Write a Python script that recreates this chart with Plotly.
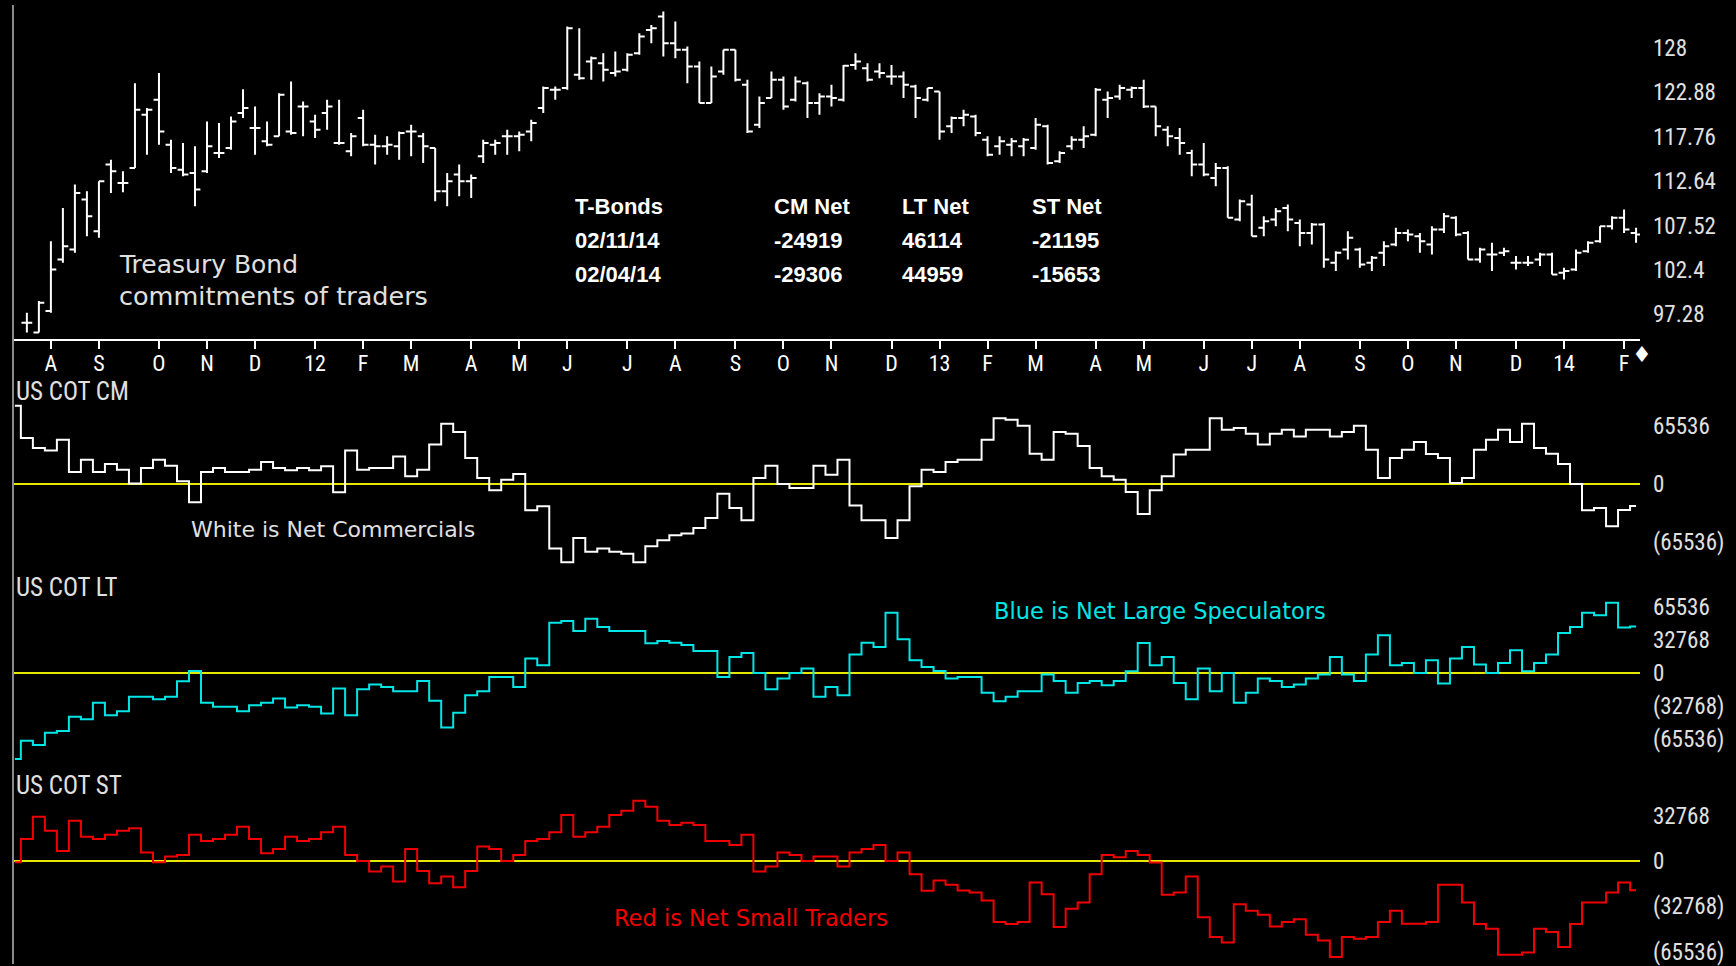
import plotly.graph_objects as go
import pandas as pd

# ---------------- data ----------------
bar_dates = pd.date_range("2011-07-22", periods=135, freq="W-FRI")
cot_dates = pd.date_range("2011-07-15", periods=136, freq="W-FRI")

open_ = [96.32, 95.17, 97.66, 103.60, 104.75, 110.51, 106.86, 114.54, 112.43, 114.15,
         120.29, 122.02, 116.84, 113.96, 113.58, 113.77, 115.88, 116.45, 120.48, 118.76,
         117.22, 117.80, 118.37, 121.25, 119.52, 120.48, 117.03, 116.07, 119.91, 116.84,
         116.65, 116.65, 118.37, 117.80, 116.45, 111.47, 113.39, 112.62, 115.50, 116.84,
         117.80, 117.80, 118.37, 121.06, 123.17, 123.36, 124.89, 126.43, 126.24, 125.09,
         125.47, 127.39, 130.07, 131.61, 128.54, 127.77, 125.85, 121.63, 125.28, 127.77,
         123.74, 119.14, 122.21, 124.32, 122.02, 123.93, 121.63, 122.40, 122.02, 126.04,
         125.66, 125.28, 124.70, 124.70, 123.55, 122.02, 122.97, 118.95, 119.91, 120.10,
         117.41, 116.65, 116.84, 116.65, 116.45, 118.95, 114.92, 116.65, 117.41, 117.99,
         122.02, 122.40, 123.17, 123.36, 121.25, 118.56, 117.61, 115.88, 114.54, 113.00,
         114.15, 108.21, 109.93, 107.25, 108.21, 109.55, 107.82, 106.67, 107.63, 103.22,
         104.75, 104.75, 103.22, 104.37, 105.33, 106.67, 106.29, 105.33, 107.06, 108.40,
         106.67, 103.60, 104.18, 104.37, 103.22, 103.22, 103.60, 104.18, 102.07, 102.45,
         104.56, 105.71, 107.44, 108.40, 106.67]
high = [97.47, 98.81, 105.71, 109.55, 112.24, 111.47, 112.62, 115.11, 113.77, 123.93,
        121.06, 125.09, 117.41, 117.03, 116.65, 119.52, 119.33, 120.10, 123.24, 121.25,
        119.52, 122.78, 124.13, 121.82, 120.29, 122.02, 122.02, 118.18, 120.87, 117.99,
        117.80, 118.37, 119.14, 118.18, 116.45, 113.58, 114.54, 113.39, 117.41, 117.41,
        118.56, 118.37, 119.71, 123.55, 123.55, 130.46, 130.26, 127.00, 127.39, 127.58,
        127.39, 129.69, 130.65, 132.18, 131.03, 128.15, 126.43, 125.85, 127.77, 127.77,
        124.32, 122.40, 125.28, 124.70, 124.70, 124.13, 122.78, 123.74, 126.04, 127.39,
        126.24, 126.24, 126.04, 125.28, 123.74, 123.36, 122.97, 120.10, 120.87, 120.29,
        117.80, 117.80, 117.61, 117.61, 119.91, 119.14, 116.07, 117.80, 118.95, 123.36,
        122.97, 123.74, 123.55, 124.32, 121.25, 118.95, 118.76, 116.26, 117.03, 114.73,
        114.34, 110.51, 111.08, 108.59, 109.55, 109.93, 108.21, 107.82, 107.82, 104.56,
        106.86, 104.95, 103.99, 105.71, 107.25, 107.06, 106.67, 107.44, 108.97, 108.59,
        106.86, 104.95, 105.52, 104.95, 103.99, 103.99, 104.37, 104.37, 102.65, 104.75,
        105.71, 107.44, 108.59, 109.36, 107.25]
low = [95.17, 95.17, 97.47, 103.22, 104.37, 106.29, 106.10, 111.28, 111.35, 114.15,
       115.69, 116.84, 113.58, 113.19, 109.74, 113.58, 115.30, 116.26, 119.91, 115.69,
       116.65, 117.80, 117.99, 117.80, 117.61, 118.56, 116.84, 115.50, 116.65, 114.54,
       115.69, 115.11, 115.50, 114.73, 110.32, 109.74, 110.89, 110.70, 114.73, 115.69,
       115.69, 116.07, 117.22, 120.48, 122.02, 123.17, 124.32, 124.32, 124.13, 124.70,
       125.28, 127.20, 128.54, 127.00, 126.81, 123.93, 121.63, 121.63, 124.89, 124.13,
       118.18, 118.76, 122.21, 120.87, 121.82, 119.91, 120.29, 121.25, 121.82, 125.47,
       124.13, 124.51, 123.74, 122.21, 119.91, 121.82, 117.41, 118.18, 118.95, 117.80,
       115.50, 115.69, 115.50, 115.50, 116.26, 114.54, 114.73, 116.26, 116.45, 117.80,
       119.91, 122.02, 122.21, 121.06, 117.80, 116.65, 115.69, 113.19, 113.19, 112.04,
       108.40, 108.01, 106.29, 106.29, 107.44, 106.86, 105.14, 105.33, 102.65, 102.26,
       103.60, 102.65, 102.26, 102.84, 105.14, 105.71, 104.37, 104.18, 106.67, 106.29,
       103.60, 103.22, 102.26, 103.99, 102.45, 102.84, 102.84, 101.88, 101.30, 102.26,
       104.37, 105.52, 107.06, 106.67, 105.52]
close = [96.32, 98.62, 102.45, 105.14, 111.28, 108.59, 112.62, 113.77, 112.43, 120.87,
         120.87, 118.37, 114.15, 113.39, 111.66, 116.65, 115.88, 119.52, 121.06, 118.76,
         116.84, 122.59, 118.18, 121.25, 118.56, 121.25, 117.03, 117.80, 116.84, 116.65,
         116.84, 118.18, 118.37, 116.65, 111.47, 112.62, 112.62, 113.00, 117.03, 117.03,
         117.80, 117.99, 119.33, 123.36, 123.17, 130.26, 124.51, 126.81, 125.47, 125.28,
         127.20, 129.30, 130.26, 128.54, 127.77, 125.85, 121.63, 124.70, 127.77, 124.32,
         118.37, 121.63, 124.32, 121.25, 124.13, 121.63, 122.40, 122.21, 125.93, 126.43,
         124.32, 125.09, 124.70, 123.74, 122.21, 123.36, 118.37, 119.91, 120.29, 118.18,
         115.69, 117.22, 117.22, 117.41, 119.14, 114.73, 115.88, 117.41, 117.80, 123.17,
         122.21, 123.36, 123.36, 121.25, 118.95, 117.80, 117.03, 114.54, 113.39, 114.15,
         108.40, 110.32, 106.29, 108.01, 109.17, 108.21, 106.67, 107.63, 103.60, 104.37,
         106.10, 103.03, 103.80, 105.14, 106.67, 106.48, 105.71, 107.06, 108.59, 106.48,
         103.60, 104.75, 104.18, 104.56, 103.22, 103.22, 104.18, 101.88, 102.26, 104.37,
         105.52, 107.44, 108.40, 107.06, 106.48]

cm_net = [88125, 51750, 40500, 37875, 49875, 13500, 27375, 13500, 22500, 16125,
          500, 18000, 27375, 20625, 3000, -20625, 13500, 18000, 13500, 13500,
          16125, 24750, 18000, 15375, 18000, 15375, 19875, -9375, 37875, 16125,
          18000, 18000, 31125, 8625, 16125, 44625, 67875, 58500, 29250, 6750,
          -7125, 4875, 11250, -29625, -25125, -72750, -88125, -60750, -76500, -72750,
          -76500, -78750, -88125, -70125, -63375, -57750, -55875, -49500, -38250, -10875,
          -27000, -40875, 6750, 20625, 0, -4500, -4500, 20625, 10500, 27375,
          -24375, -40875, -40875, -60750, -40875, -2625, 16125, 13500, 24750, 27375,
          27375, 49875, 74250, 72375, 65625, 34125, 27375, 58500, 56625, 42750,
          18000, 8625, 4875, -9000, -33750, -7125, 8625, 33375, 38625, 38625,
          74250, 61125, 63000, 56625, 44625, 56625, 61125, 53625, 61125, 61125,
          53625, 58500, 65625, 38625, 6750, 29250, 38625, 47250, 33750, 29250,
          1125, 6750, 38625, 49875, 61125, 47250, 67875, 40500, 34125, 22500,
          0, -29625, -27000, -47625, -29306, -24919]
lt_net = [-85470, -67320, -71610, -59400, -57750, -43560, -45870, -29700, -41910, -37950,
          -23760, -23760, -26070, -23760, -8250, 1980, -29700, -33660, -33660, -37950,
          -32010, -29700, -25410, -34320, -32010, -33660, -40260, -15510, -41910, -16170,
          -11550, -13860, -18150, -18150, -7920, -27720, -54120, -39600, -22110, -18150,
          -3960, -3960, -13860, 14190, 7590, 49830, 51480, 41580, 53790, 45540,
          41580, 41580, 41580, 29370, 31680, 30030, 27720, 21780, 21780, -3960,
          15840, 19800, 0, -16170, -5610, 0, 4290, -23760, -13860, -22110,
          18150, 30030, 25740, 59730, 33330, 12540, 5940, 1980, -5610, -3960,
          -3960, -19800, -28050, -23760, -18150, -18150, -1650, -7920, -19800, -9900,
          -7920, -12210, -7920, 1650, 29700, 7590, 15840, -9900, -26070, 4290,
          -18150, 0, -29700, -19800, -5610, -7920, -13860, -11550, -5610, -1650,
          15840, -1650, -7920, 18150, 37290, 7590, 9900, 0, 12540, -10560,
          14190, 25740, 8250, 0, 9900, 22440, 1650, 9900, 18150, 39600,
          45540, 59730, 57090, 69630, 44959, 46114]
st_net = [-960, 15840, 31920, 21840, 7200, 29040, 17520, 15840, 18960, 21840,
          23520, 6000, -960, 3120, 4320, 18960, 14400, 15840, 18960, 24720,
          15840, 5520, 8640, 17520, 14400, 15840, 20640, 24720, 4320, 0,
          -7680, -4080, -14880, 8640, -7200, -16080, -11280, -18960, -7200, 10320,
          8640, 0, 4320, 14400, 15840, 20640, 33120, 17520, 20640, 24720,
          33120, 36240, 43440, 39120, 29040, 25920, 27600, 25920, 14400, 14400,
          11520, 18960, -7680, -4080, 6000, 4320, 0, 3120, 3120, -4080,
          6000, 8640, 11520, 0, 6000, -9600, -21600, -14160, -17280, -21360,
          -22800, -28560, -44160, -45600, -44160, -15600, -24000, -47760, -34560, -30000,
          -9600, 4320, 2640, 7200, 4320, -1200, -24480, -22800, -11280, -40560,
          -54960, -58800, -31200, -36000, -38880, -47280, -44160, -42000, -53280, -57360,
          -69360, -54960, -56160, -54960, -44160, -36000, -45360, -45360, -44160, -17280,
          -17280, -30000, -45600, -48960, -67680, -67680, -66000, -48960, -51360, -62160,
          -45600, -30000, -30000, -22800, -15653, -21195]

report_dates = ["02/11/14", "02/04/14"]
month_labels = ["A", "S", "O", "N", "D", "12", "F", "M", "A", "M", "J", "J", "A", "S", "O",
                "N", "D", "13", "F", "M", "A", "M", "J", "J", "A", "S", "O", "N", "D", "14", "F"]
price_ticks = [128, 122.88, 117.76, 112.64, 107.52, 102.4, 97.28]
cm_ticks = [65536, 0, -65536]
lt_ticks = [65536, 32768, 0, -32768, -65536]
st_ticks = [32768, 0, -32768, -65536]

# ---------------- layout helpers ----------------
W, H = 1736, 966
ML, MR = 13, 96
PW = W - ML - MR


def py(yfull):
    return 1 - yfull / H


def px(xfull):
    return (xfull - ML) / PW


def fmt(v):
    return "0" if v == 0 else (f"({abs(v)})" if v < 0 else str(v))


s = pd.Series(bar_dates)
firsts = s.groupby(s.dt.to_period("M")).first()
month_ticks = list(firsts.values[1:])

NARROW = "Liberation Sans Narrow, Arial Narrow, Roboto Condensed, Liberation Sans"
LBL = "#e0e0e0"
YEL = "#e6e600"

fig = go.Figure()
fig.add_trace(go.Ohlc(x=bar_dates, open=open_, high=high, low=low, close=close,
                      increasing=dict(line=dict(color="white", width=2)),
                      decreasing=dict(line=dict(color="white", width=2)),
                      tickwidth=0.45, xaxis="x", yaxis="y", hoverinfo="skip"))
fig.add_trace(go.Scatter(x=cot_dates, y=cm_net, mode="lines", line=dict(color="white", width=2, shape="hvh"),
                         xaxis="x", yaxis="y2", hoverinfo="skip"))
fig.add_trace(go.Scatter(x=cot_dates, y=lt_net, mode="lines", line=dict(color="#00e5e5", width=2, shape="hvh"),
                         xaxis="x", yaxis="y3", hoverinfo="skip"))
fig.add_trace(go.Scatter(x=cot_dates, y=st_net, mode="lines", line=dict(color="#f00000", width=2, shape="hvh"),
                         xaxis="x", yaxis="y4", hoverinfo="skip"))

common_y = dict(side="right", anchor="x", showgrid=False, ticks="", showline=False,
                tickfont=dict(family=NARROW, size=23, color=LBL), ticklabelstandoff=12,
                ticklabeloverflow="allow", fixedrange=True)

fig.update_layout(
    width=W, height=H, margin=dict(l=ML, r=MR, t=0, b=0),
    paper_bgcolor="black", plot_bgcolor="black", showlegend=False, hovermode=False,
    xaxis=dict(type="date", range=["2011-07-13 22:00", "2014-02-16 07:00"], domain=[0, 1], anchor="y",
               showline=True, linecolor="white", linewidth=2, ticks="outside", ticklen=8, tickwidth=2,
               tickcolor="white", tickvals=month_ticks, ticktext=month_labels, ticklabelstandoff=-5,
               tickfont=dict(family=NARROW, size=22, color="white"), showgrid=False, zeroline=False,
               rangeslider=dict(visible=False), fixedrange=True),
    yaxis=dict(domain=[py(340), 1], range=[94.40, 133.52], tickvals=price_ticks,
               ticktext=[str(v) for v in price_ticks], zeroline=False, **common_y),
    yaxis2=dict(domain=[py(570), py(375)], range=[-95625, 123750], tickvals=cm_ticks,
                ticktext=[fmt(v) for v in cm_ticks], zeroline=True, zerolinecolor=YEL, zerolinewidth=2, **common_y),
    yaxis3=dict(domain=[py(765), py(580)], range=[-89793, 93357], tickvals=lt_ticks,
                ticktext=[fmt(v) for v in lt_ticks], zeroline=True, zerolinecolor=YEL, zerolinewidth=2, **common_y),
    yaxis4=dict(domain=[0, py(775)], range=[-74376, 63144], tickvals=st_ticks,
                ticktext=[fmt(v) for v in st_ticks], zeroline=True, zerolinecolor=YEL, zerolinewidth=2, **common_y),
)

fig.add_shape(type="line", xref="paper", yref="paper", x0=0, x1=0, y0=0, y1=py(5),
              line=dict(color="#8a8a8a", width=2))

ann = []


def txt(x, y, text, size, color, family, bold=False):
    t = f"<b>{text}</b>" if bold else text
    ann.append(dict(x=px(x), y=py(y), xref="paper", yref="paper", text=t, showarrow=False,
                    xanchor="left", yanchor="middle", font=dict(size=size, color=color, family=family)))


PIX = "DejaVu Sans"
txt(117, 265, "Treasury Bond", 25, LBL, PIX)
txt(117, 297, "commitments of traders", 25.5, LBL, PIX)
txt(14, 392, "US COT CM", 25, LBL, NARROW)
txt(14, 589, "US COT LT", 25, LBL, NARROW)
txt(14, 787, "US COT ST", 25, LBL, NARROW)
txt(189, 531, "White is Net Commercials", 22, LBL, PIX)
txt(992, 612, "Blue is Net Large Speculators", 22.5, "#00e5e5", PIX)
txt(612, 920, "Red is Net Small Traders", 22.5, "#f00000", PIX)

TB = "Liberation Sans"
cols = [573, 772, 900, 1030]
rows = [207, 241, 275]
header = ["T-Bonds", "CM Net", "LT Net", "ST Net"]
for c, h in zip(cols, header):
    txt(c, rows[0], h, 22, "white", TB, bold=True)
for r, k in zip(rows[1:], [1, 2]):
    vals = [report_dates[k - 1], cm_net[-k], lt_net[-k], st_net[-k]]
    for c, v in zip(cols, vals):
        txt(c, r, str(v), 22, "white", TB, bold=True)

# end-of-data marker beside the last axis label
ann.append(dict(x=px(1631), y=py(355), xref="paper", yref="paper", text="♦", showarrow=False,
                xanchor="left", yanchor="middle", borderpad=0,
                font=dict(size=22, color="white", family="DejaVu Sans")))
fig.update_layout(annotations=ann)

fig.write_html("out.html", config={"displayModeBar": False},
               post_script="document.body.style.margin='0px';document.body.style.overflow='hidden';")
